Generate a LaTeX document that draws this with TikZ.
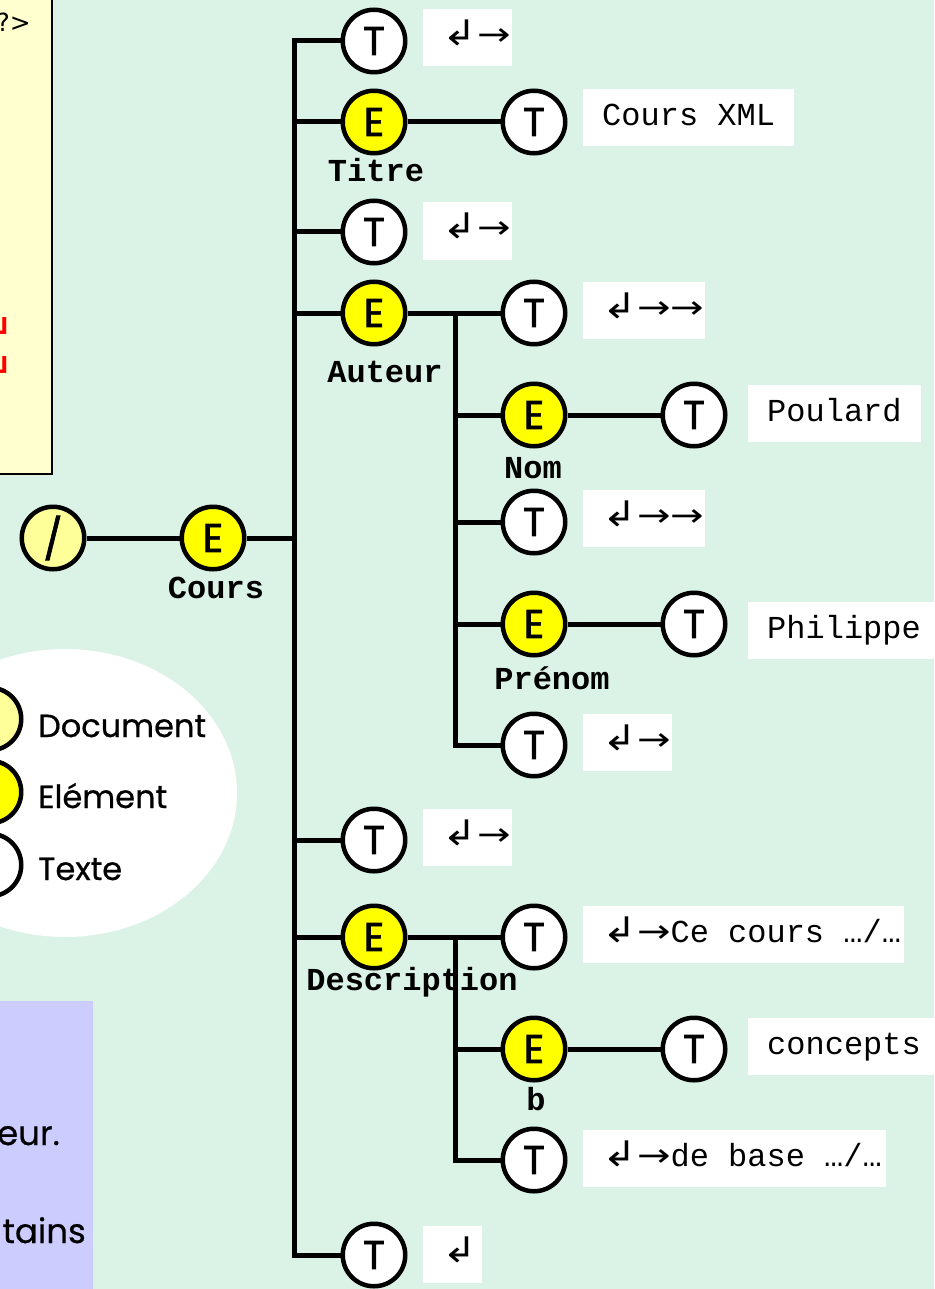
\documentclass[tikz,border=0pt]{standalone}
\usepackage{fontspec}
\setmainfont{DejaVu Sans}
\newfontfamily\comicf{Poppins}[FakeBold=0.6]
\newfontfamily\circf{Poppins}[FakeBold=1.8]
\newfontfamily\monof{Liberation Mono}
\newfontfamily\symf{DejaVu Sans}
\newcommand{\retg}{{\symf\scalebox{1.3}[1.1]{↲}}}
\newcommand{\arw}{{\symf\scalebox{1.25}[1]{→}}}
\newcommand{\bx}[2]{\makebox[\dimexpr#1pt-38pt\relax][l]{#2}}
\definecolor{bgc}{RGB}{219,242,230}
\definecolor{docyel}{RGB}{255,255,153}
\definecolor{elyel}{RGB}{255,255,0}
\definecolor{codebox}{RGB}{255,255,208}
\definecolor{bluebox}{RGB}{204,204,255}
\begin{document}
\begin{tikzpicture}[x=1pt,y=-1pt,
  circ/.style={circle,draw=black,line width=4.5pt,minimum size=62.5pt,inner sep=0pt,font=\circf\fontsize{40}{40}\selectfont},
  docnode/.style={circ,fill=docyel},
  elnode/.style={circ,fill=elyel},
  txnode/.style={circ,fill=white},
  lbl/.style={anchor=base,inner sep=0pt,font=\monof\bfseries\fontsize{32}{32}\selectfont},
  tbox/.style={fill=white,anchor=west,inner xsep=19pt,inner ysep=0pt,minimum height=57pt,text height=22pt,text depth=6pt,font=\monof\fontsize{32}{32}\selectfont},
  legtext/.style={anchor=base west,inner sep=0pt,font=\comicf\fontsize{32}{32}\selectfont},
  conn/.style={line width=5pt}]
\useasboundingbox (0,0) rectangle (934,1289);
\fill[bgc] (0,0) rectangle (934,1289);

% code box (cut at the left edge)
\draw[fill=codebox,line width=1.5pt] (-20,-20) rectangle (52,474);
\node[anchor=base east,inner sep=0pt,font=\symf\fontsize{25}{25}\selectfont] (qend) at (31,32) {?>};
\node[anchor=base east,inner sep=0pt,text=red,font=\symf\bfseries\fontsize{24}{24}\selectfont] (r1) at (13,338) {\scalebox{1.4}[1.2]{↲}};
\node[anchor=base east,inner sep=0pt,text=red,font=\symf\bfseries\fontsize{24}{24}\selectfont] (r2) at (13,377) {\scalebox{1.4}[1.2]{↲}};

% legend
\fill[white] (65,793) ellipse [x radius=172, y radius=144];
\node[docnode] (ldoc) at (-10,719) {/};
\node[elnode] (lel) at (-10,792) {E};
\node[txnode] (ltx) at (-10,865) {T};
\node[legtext] (ldoct) at (38,737) {Document};
\node[legtext] (lelt) at (38,808) {Elément};
\node[legtext] (ltxt) at (38,880) {Texte};

% blue note (cut at the left edge)
\fill[bluebox] (-20,1001) rectangle (93,1300);
\node[anchor=base east,inner sep=0pt,font=\comicf\fontsize{34}{34}\selectfont] (n1) at (60,1145) {eur.};
\node[anchor=base east,inner sep=0pt,font=\comicf\fontsize{34}{34}\selectfont] (n2) at (86,1243) {tains};

% tree nodes
\node[docnode] (doc) at (53,538) {/};
\node[elnode] (cours) at (213,538) {E};
\node[lbl] (lcours) at (216,598) {Cours};
\coordinate (trunk) at (294,538);

\node[txnode] (t1) at (374,41) {T};
\node[elnode] (titre) at (374,122) {E};
\node[lbl] (ltitre) at (376,182) {Titre};
\node[txnode] (t2) at (374,232) {T};
\node[elnode] (auteur) at (374,313) {E};
\node[lbl] (lauteur) at (385,382) {Auteur};
\node[txnode] (t3) at (374,840) {T};
\node[elnode] (desc) at (374,937) {E};
\node[lbl] (ldesc) at (412,990) {Description};
\node[txnode] (t4) at (374,1255) {T};

\node[txnode] (titreT) at (534,122) {T};

\coordinate (aut) at (455,313);
\node[txnode] (a1) at (534,313) {T};
\node[elnode] (nom) at (534,415) {E};
\node[lbl] (lnom) at (533,478) {Nom};
\node[txnode] (a2) at (534,522) {T};
\node[elnode] (prenom) at (534,624) {E};
\node[lbl] (lprenom) at (552,689) {Prénom};
\node[txnode] (a3) at (534,745) {T};
\node[txnode] (nomT) at (694,415) {T};
\node[txnode] (prenomT) at (694,624) {T};

\coordinate (dsc) at (455,937);
\node[txnode] (d1) at (534,937) {T};
\node[elnode] (b) at (534,1049) {E};
\node[lbl] (lb) at (536,1110) {b};
\node[txnode] (d2) at (534,1160) {T};
\node[txnode] (bT) at (694,1049) {T};

% text boxes
\node[tbox] (x1) at (423,38) {\bx{89}{\retg\arw}};
\node[tbox] (x2) at (583,118) {\bx{211}{Cours XML}};
\node[tbox] (x3) at (423,231) {\bx{89}{\retg\arw}};
\node[tbox] (x4) at (583,310) {\bx{122}{\retg\arw\arw}};
\node[tbox] (x5) at (748,413) {\bx{173}{Poulard}};
\node[tbox] (x6) at (583,518) {\bx{122}{\retg\arw\arw}};
\node[tbox] (x7) at (748,630) {\bx{200}{Philippe}};
\node[tbox] (x8) at (583,742) {\bx{89}{\retg\arw}};
\node[tbox] (x9) at (423,837) {\bx{89}{\retg\arw}};
\node[tbox] (x10) at (583,934) {\bx{321}{\retg\arw Ce cours …/…}};
\node[tbox] (x11) at (748,1046) {\bx{200}{concepts}};
\node[tbox] (x12) at (583,1158) {\bx{303}{\retg\arw de base …/…}};
\node[tbox] (x13) at (423,1254) {\bx{59}{\retg}};

% connectors
\draw[conn] (doc) -- (cours);
\draw[conn] (cours) -- (trunk);
\foreach \n in {t1,titre,t2,auteur,t3,desc,t4} \draw[conn] (trunk) |- (\n);
\draw[conn] (titre) -- (titreT);
\draw[conn] (auteur) -- (aut);
\foreach \n in {a1,nom,a2,prenom,a3} \draw[conn] (aut) |- (\n);
\draw[conn] (nom) -- (nomT);
\draw[conn] (prenom) -- (prenomT);
\draw[conn] (desc) -- (dsc);
\foreach \n in {d1,b,d2} \draw[conn] (dsc) |- (\n);
\draw[conn] (b) -- (bT);
\end{tikzpicture}
\end{document}
